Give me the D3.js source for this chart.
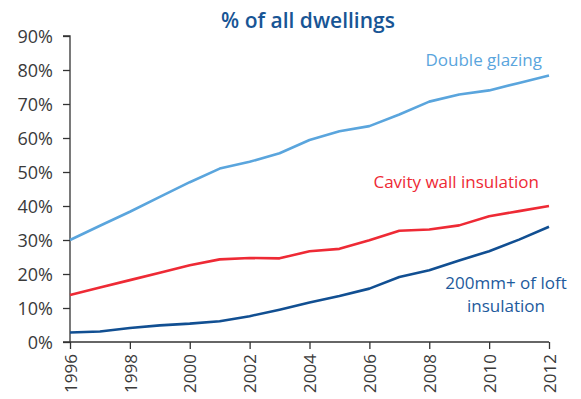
<!DOCTYPE html>
<html>
<head>
<meta charset="utf-8">
<script src="https://cdn.jsdelivr.net/npm/d3@7"></script>
<style>
 body { margin: 0; background: #fff; }
 text { font-family: "Open Sans", "Noto Sans", sans-serif; }
</style>
</head>
<body>
<svg id="graph"></svg>
<script>
// years and values (% of all dwellings)
const years = [1996, 1997, 1998, 1999, 2000, 2001, 2002, 2003, 2004, 2005, 2006, 2007, 2008, 2009, 2010, 2011, 2012];
const doubleGlazing = [30.0, 34.2, 38.3, 42.7, 47.0, 51.0, 53.0, 55.5, 59.4, 62.0, 63.5, 66.9, 70.7, 72.8, 74.0, 76.2, 78.4];
const cavityWall = [13.8, 16.0, 18.2, 20.4, 22.6, 24.3, 24.7, 24.6, 26.7, 27.4, 29.9, 32.7, 33.1, 34.3, 37.0, 38.5, 40.0];
const loftInsulation = [2.8, 3.1, 4.1, 4.9, 5.4, 6.1, 7.6, 9.5, 11.6, 13.5, 15.7, 19.1, 21.1, 24.0, 26.7, 30.1, 33.9];
const yTicks = [0, 10, 20, 30, 40, 50, 60, 70, 80, 90];
const xTicks = [1996, 1998, 2000, 2002, 2004, 2006, 2008, 2010, 2012];

const series = [
 { name: "Double glazing", values: doubleGlazing, color: "#5aa5dd" },
 { name: "Cavity wall insulation", values: cavityWall, color: "#ee2a35" },
 { name: "200mm+ of loft insulation", values: loftInsulation, color: "#114f92" }
];

let width = 581;
let height = 399;
let marginLeft = 70;
let marginTop = 36;
let plotW = 479;
let plotH = 306;

let svg = d3.select("#graph")
 .attr("width", width)
 .attr("height", height);

let scaleX = d3.scaleLinear().domain([1996, 2012]).range([0, plotW]);
let scaleY = d3.scaleLinear().domain([0, 90]).range([plotH, 0]);

let g = svg.append("g").attr("transform", `translate(${marginLeft}, ${marginTop})`);

// y axis
let axisY = d3.axisLeft(scaleY).tickValues(yTicks).tickSize(7).tickPadding(10)
 .tickFormat(d => d + "%");
let gy = g.append("g").call(axisY);
gy.select(".domain").attr("d", `M-7,0H0V${plotH}H-7`);
gy.selectAll("text").style("font-size", "18px").attr("fill", "#3a3a3a").attr("dy", "0.36em");

// x axis
let axisX = d3.axisBottom(scaleX).tickValues(xTicks).tickSize(7).tickFormat(d3.format("d"));
let gx = g.append("g").attr("transform", `translate(0, ${plotH})`).call(axisX);
gx.select(".domain").attr("d", `M0,0H${plotW}`);
gx.selectAll("text")
 .style("font-size", "17px")
 .attr("fill", "#3a3a3a")
 .style("text-anchor", "end")
 .attr("transform", "rotate(-90)")
 .attr("x", -12)
 .attr("y", 0)
 .attr("dy", "0.36em");
svg.selectAll(".domain, .tick line").attr("stroke", "#333").attr("stroke-width", 1.3);

// lines
let line = d3.line()
 .x((d, i) => scaleX(years[i]))
 .y(d => scaleY(d));

g.selectAll(".series")
 .data(series)
 .enter()
 .append("path")
 .attr("fill", "none")
 .attr("stroke", d => d.color)
 .attr("stroke-width", 2.6)
 .attr("stroke-linejoin", "round")
 .attr("d", d => line(d.values));

// title
svg.append("text")
 .attr("x", 308)
 .attr("y", 28)
 .attr("text-anchor", "middle")
 .attr("fill", "#185595")
 .style("font-size", "21px")
 .style("font-weight", "600")
 .text("% of all dwellings");

// series labels
svg.append("text").attr("x", 542).attr("y", 66).attr("text-anchor", "end")
 .attr("fill", series[0].color).style("font-size", "17px").text("Double glazing");
svg.append("text").attr("x", 539).attr("y", 188).attr("text-anchor", "end")
 .attr("fill", series[1].color).style("font-size", "17px").text("Cavity wall insulation");
svg.append("text").attr("x", 506).attr("y", 289).attr("text-anchor", "middle")
 .attr("fill", "#1d5a9c").style("font-size", "17px").text("200mm+ of loft");
svg.append("text").attr("x", 506).attr("y", 312).attr("text-anchor", "middle")
 .attr("fill", "#1d5a9c").style("font-size", "17px").text("insulation");
</script>
</body>
</html>
